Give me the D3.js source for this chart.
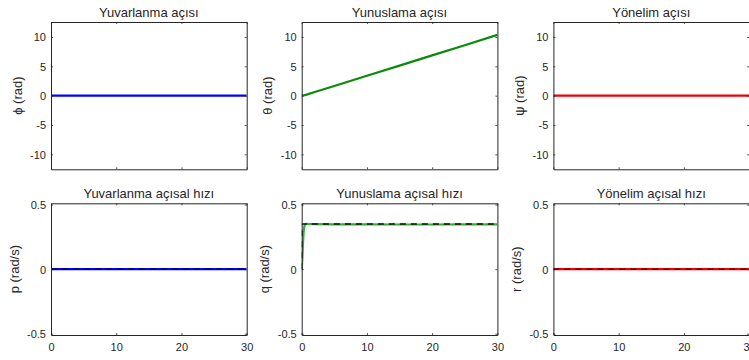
<!DOCTYPE html>
<html>
<head>
<meta charset="utf-8">
<script src="https://cdn.jsdelivr.net/npm/d3@7"></script>
<style>
  body { margin: 0; background: #fff; }
  svg { display: block; }
  text { font-family: "Liberation Sans", Arial, sans-serif; fill: #262626; }
</style>
</head>
<body>
<svg id="chart" width="749" height="360"></svg>
<script>
// ---- data ----
var titles = ["Yuvarlanma açısı", "Yunuslama açısı", "Yönelim açısı",
              "Yuvarlanma açısal hızı", "Yunuslama açısal hızı", "Yönelim açısal hızı"];
var yLabels = ["ϕ (rad)", "θ (rad)", "ψ (rad)", "p (rad/s)", "q (rad/s)", "r (rad/s)"];
var xTicks = [0, 10, 20, 30];
var angleTicks = [-10, -5, 0, 5, 10];
var rateTicks = [-0.5, 0, 0.5];

var tFlat = [0, 30];
var phi = [0, 0];
var psi = [0, 0];
var tTheta = [0, 0.5, 1, 2, 5, 10, 15, 20, 25, 30];
var theta = [0, 0.09, 0.26, 0.61, 1.65, 3.38, 5.12, 6.86, 8.6, 10.36];

var p = [0, 0];
var r = [0, 0];
var pRef = [0, 0];
var rRef = [0, 0];
var tQ = [0, 0.1, 0.2, 0.3, 0.4, 0.5, 0.7, 1, 2, 5, 10, 15, 20, 25, 30];
var q = [0, 0.08, 0.2, 0.29, 0.33, 0.345, 0.351, 0.35, 0.349, 0.347, 0.347, 0.346, 0.346, 0.347, 0.347];
var tQRef = [0, 0.05, 30];
var qRef = [0, 0.35, 0.35];

// ---- layout ----
var svg = d3.select("#chart");
var colLeft = [51, 301.7, 553.4];
var boxW = 195.7;
var rowTop = [22, 203.3];
var rowBottom = [169.3, 335];

var panels = [
  {t: tFlat, y: phi, color: "#0000ff", dom: [-12.55, 12.55], ticks: angleTicks},
  {t: tTheta, y: theta, color: "#0b8a0b", dom: [-12.55, 12.55], ticks: angleTicks},
  {t: tFlat, y: psi, color: "#f00000", dom: [-12.55, 12.55], ticks: angleTicks},
  {t: tFlat, y: p, color: "#0000ff", dom: [-0.51, 0.51], ticks: rateTicks, refT: tFlat, ref: pRef, refColor: "#00007a"},
  {t: tQ, y: q, color: "#30b030", dom: [-0.51, 0.51], ticks: rateTicks, refT: tQRef, ref: qRef, refColor: "#111"},
  {t: tFlat, y: r, color: "#f00000", dom: [-0.51, 0.51], ticks: rateTicks, refT: tFlat, ref: rRef, refColor: "#800000"}
];

panels.forEach(function(d, i) {
  var row = Math.floor(i / 3), col = i % 3;
  var x0 = colLeft[col], x1 = x0 + boxW;
  var y0 = rowTop[row], y1 = rowBottom[row];

  var x = d3.scaleLinear().domain([0, 30]).range([x0, x1]);
  var y = d3.scaleLinear().domain(d.dom).range([y1, y0]);

  var g = svg.append("g");

  g.append("clipPath").attr("id", "clip" + i)
    .append("rect").attr("x", x0).attr("y", y0).attr("width", boxW).attr("height", y1 - y0);

  // lines
  var line = d3.line().x(function(v) { return x(v[0]); }).y(function(v) { return y(v[1]); });
  var plot = g.append("g").attr("clip-path", "url(#clip" + i + ")");
  plot.append("path")
    .datum(d.t.map(function(t, k) { return [t, d.y[k]]; }))
    .attr("d", line)
    .attr("fill", "none")
    .attr("stroke", d.color)
    .attr("stroke-width", 2.2);
  if (d.ref) {
    plot.append("path")
      .datum(d.refT.map(function(t, k) { return [t, d.ref[k]]; }))
      .attr("d", line)
      .attr("fill", "none")
      .attr("stroke", d.refColor)
      .attr("stroke-width", 1.6)
      .attr("stroke-dasharray", "6,5");
  }

  // axes (inward ticks, all four sides)
  var tk = 2;
  var axB = d3.axisBottom(x).tickValues(xTicks).tickSizeInner(-tk).tickSizeOuter(0)
    .tickFormat(row == 1 ? d3.format("d") : "");
  var axT = d3.axisTop(x).tickValues(xTicks).tickSizeInner(-tk).tickSizeOuter(0).tickFormat("");
  var axL = d3.axisLeft(y).tickValues(d.ticks).tickSizeInner(-tk).tickSizeOuter(0)
    .tickFormat(function(v) { return v; });
  var axR = d3.axisRight(y).tickValues(d.ticks).tickSizeInner(-tk).tickSizeOuter(0).tickFormat("");

  var gb = g.append("g").attr("transform", "translate(0," + y1 + ")").call(axB);
  var gt = g.append("g").attr("transform", "translate(0," + y0 + ")").call(axT);
  var gl = g.append("g").attr("transform", "translate(" + x0 + ",0)").call(axL);
  var gr = g.append("g").attr("transform", "translate(" + x1 + ",0)").call(axR);

  [gb, gt, gl, gr].forEach(function(a) {
    a.select(".domain").attr("stroke", "#262626").attr("stroke-width", 1);
    a.selectAll(".tick line").attr("stroke", "#262626").attr("stroke-width", 0.8);
    a.selectAll(".tick text").attr("font-size", 11).attr("fill", "#262626")
      .attr("font-family", "Liberation Sans, Arial, sans-serif");
  });
  gl.selectAll(".tick text").attr("x", -5).attr("dy", "0.35em");
  gb.selectAll(".tick text").attr("y", 8);

  // title
  g.append("text")
    .attr("x", (x0 + x1) / 2)
    .attr("y", y0 - 5.5)
    .attr("text-anchor", "middle")
    .attr("font-size", 13)
    .attr("fill", "#000")
    .text(titles[i]);

  // y label
  var off = row == 0 ? 29.5 : 32.5;
  g.append("text")
    .attr("transform", "translate(" + (x0 - off) + "," + ((y0 + y1) / 2) + ") rotate(-90)")
    .attr("text-anchor", "middle")
    .attr("font-size", 13)
    .attr("fill", "#000")
    .text(yLabels[i]);
});
</script>
</body>
</html>
